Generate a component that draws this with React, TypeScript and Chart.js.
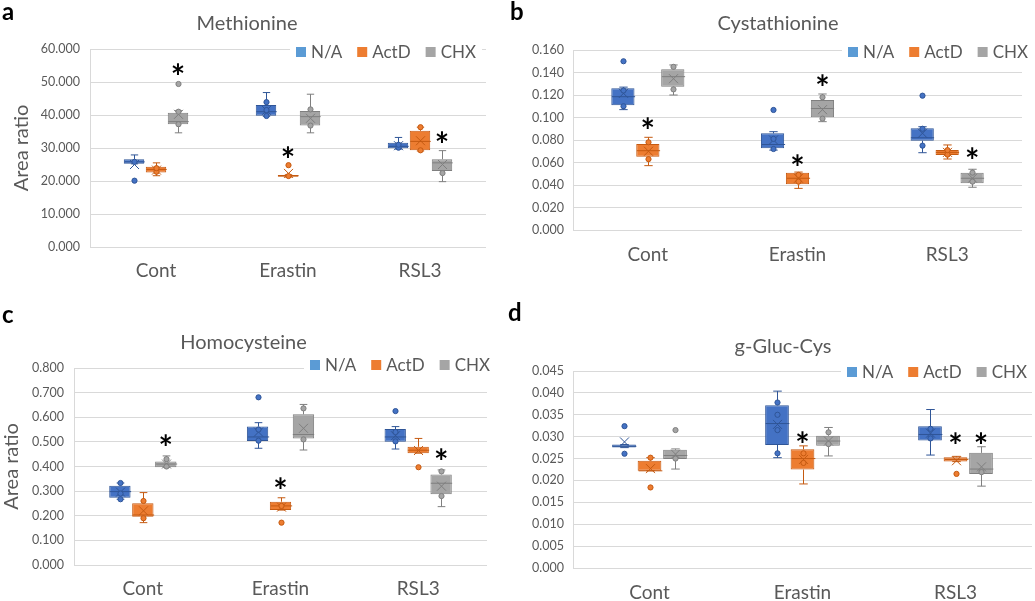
import React, { useEffect, useRef } from "react";
import { Chart, registerables } from "chart.js";
Chart.register(...registerables);

Chart.defaults.font.family = "Lato, 'Open Sans', sans-serif";
Chart.defaults.color = "#595959";

const categories = ["Cont", "Erastin", "RSL3"];
const seriesNames = ["N/A", "ActD", "CHX"];
const fills = ["#4472C4", "#ED7D31", "#A5A5A5"];
const borders = ["#2F5597", "#C55A11", "#7F7F7F"];
const swatches = ["#5B9BD5", "#ED7D31", "#A5A5A5"];

// each row: [whiskerLow, Q1, median, Q3, whiskerHigh, mean] for Cont, Erastin, RSL3
const metNA = [[25.2, 25.2, 25.8, 26.6, 27.9, 25.0], [39.6, 39.8, 41.0, 43.0, 46.8, 41.4], [29.7, 29.9, 30.5, 31.6, 33.2, 30.7]];
const metActD = [[21.6, 22.6, 23.5, 24.3, 25.5, 23.3], [21.2, 21.3, 21.6, 21.8, 21.9, 22.3], [29.1, 29.3, 32.0, 35.2, 36.3, 32.2]];
const metCHX = [[34.6, 37.2, 38.0, 40.7, 41.3, 40.2], [34.6, 36.8, 39.5, 41.2, 46.3, 39.0], [19.8, 23.0, 25.5, 26.6, 29.2, 25.0]];
const metNAPts = [[20.1, 25.8], [39.7, 43.9, 41.5], [30.1, 31.0]];
const metActDPts = [[22.8, 23.9], [24.8, 21.5], [36.3, 29.3]];
const metCHXPts = [[49.4, 37.2, 41.0], [41.7, 36.8], [22.4]];
// [series, category, value]
const metStars = [[2, 0, 53.9], [1, 1, 28.9], [2, 2, 33.4]];

const cysNA = [[0.107, 0.111, 0.1185, 0.126, 0.127, 0.1215], [0.071, 0.0726, 0.076, 0.0859, 0.0874, 0.080], [0.0687, 0.0794, 0.082, 0.0904, 0.0918, 0.086]];
const cysActD = [[0.0572, 0.0652, 0.0705, 0.0764, 0.0824, 0.070], [0.037, 0.0406, 0.046, 0.0509, 0.0515, 0.046], [0.0631, 0.0667, 0.069, 0.0711, 0.0756, 0.069]];
const cysCHX = [[0.120, 0.1274, 0.1363, 0.1428, 0.1467, 0.1345], [0.0963, 0.1002, 0.108, 0.1156, 0.1209, 0.107], [0.038, 0.0415, 0.046, 0.0509, 0.054, 0.046]];
const cysNAPts = [[0.150, 0.110, 0.124], [0.1067, 0.072, 0.081], [0.1194, 0.075, 0.090]];
const cysActDPts = [[0.063, 0.078], [0.043, 0.049], [0.067, 0.071]];
const cysCHXPts = [[0.125, 0.145], [0.099, 0.118], [0.043, 0.051]];
const cysStars = [[1, 0, 0.0954], [1, 1, 0.0622], [2, 1, 0.1333], [2, 2, 0.0682]];

const hcyNA = [[0.267, 0.273, 0.298, 0.322, 0.333, 0.296], [0.474, 0.504, 0.52, 0.562, 0.578, 0.54], [0.471, 0.501, 0.52, 0.552, 0.562, 0.525]];
const hcyActD = [[0.172, 0.196, 0.203, 0.2505, 0.294, 0.22], [0.223, 0.223, 0.24, 0.257, 0.273, 0.235], [0.454, 0.454, 0.466, 0.48, 0.514, 0.465]];
const hcyCHX = [[0.397, 0.397, 0.41, 0.42, 0.443, 0.41], [0.467, 0.514, 0.53, 0.612, 0.652, 0.555], [0.237, 0.287, 0.332, 0.368, 0.386, 0.32]];
const hcyNAPts = [[0.333, 0.267, 0.29], [0.681, 0.505, 0.55], [0.625, 0.502, 0.54]];
const hcyActDPts = [[0.26, 0.19], [0.172, 0.24], [0.397]];
const hcyCHXPts = [[0.43, 0.40], [0.636, 0.51], [0.28, 0.38]];
const hcyStars = [[2, 0, 0.508], [1, 1, 0.332], [2, 2, 0.45]];

const ggcNA = [[0.0275, 0.0275, 0.0278, 0.0282, 0.0282, 0.0288], [0.0252, 0.0281, 0.0330, 0.0372, 0.0404, 0.0328], [0.0258, 0.0291, 0.0305, 0.0324, 0.0362, 0.0308]];
const ggcActD = [[0.0222, 0.0222, 0.0222, 0.0245, 0.0252, 0.0227], [0.0192, 0.0225, 0.0250, 0.0271, 0.0279, 0.0248], [0.0243, 0.0243, 0.0248, 0.0253, 0.0255, 0.0245]];
const ggcCHX = [[0.0226, 0.0249, 0.0257, 0.0270, 0.0272, 0.0260], [0.0256, 0.0279, 0.029, 0.0302, 0.0321, 0.029], [0.0187, 0.0215, 0.0226, 0.0263, 0.0277, 0.0231]];
const ggcNAPts = [[0.0324, 0.0261], [0.0378, 0.0350, 0.0315, 0.0262], [0.0318, 0.0296]];
const ggcActDPts = [[0.0252, 0.0184], [0.0240, 0.0262], [0.0215]];
const ggcCHXPts = [[0.0315, 0.0250], [0.0310, 0.0283], [0.0219]];
const ggcStars = [[1, 1, 0.0300], [1, 2, 0.0296], [2, 2, 0.0296]];

type Panel = {
  title: string; letter: string;
  left: number; top: number; width: number; height: number;
  yMax: number; yStep: number; yTitle: boolean;
  stats: number[][][]; pts: number[][][]; stars: number[][];
  padL: number; padR: number; titleTop: number; titleBottom: number;
  yWidth: number; yTickPad: number; yTitlePad: number; xHeight: number; xTickPad: number;
  spacerR: number;
  legendRight: number; legendY: number; letterX: number; letterY: number;
};

const panels: Panel[] = [
  {
    title: "Methionine", letter: "a", left: 0, top: 0, width: 505, height: 290,
    yMax: 60, yStep: 10, yTitle: true,
    stats: [metNA, metActD, metCHX], pts: [metNAPts, metActDPts, metCHXPts], stars: metStars,
    padL: 8, padR: 19, titleTop: 12, titleBottom: 13,
    yWidth: 82, yTickPad: 10, yTitlePad: 2, xHeight: 43, xTickPad: 4, spacerR: 0,
    legendRight: 476, legendY: 52, letterX: 2, letterY: 20,
  },
  {
    title: "Cystathionine", letter: "b", left: 505, top: 0, width: 546, height: 290,
    yMax: 0.16, yStep: 0.02, yTitle: false,
    stats: [cysNA, cysActD, cysCHX], pts: [cysNAPts, cysActDPts, cysCHXPts], stars: cysStars,
    padL: 0, padR: 0, titleTop: 12, titleBottom: 14,
    yWidth: 68, yTickPad: 9, yTitlePad: 0, xHeight: 60, xTickPad: 5, spacerR: 29,
    legendRight: 523, legendY: 52, letterX: 5, letterY: 20,
  },
  {
    title: "Homocysteine", letter: "c", left: 0, top: 290, width: 505, height: 311,
    yMax: 0.8, yStep: 0.1, yTitle: true,
    stats: [hcyNA, hcyActD, hcyCHX], pts: [hcyNAPts, hcyActDPts, hcyCHXPts], stars: hcyStars,
    padL: 0, padR: 18, titleTop: 41, titleBottom: 13,
    yWidth: 74, yTickPad: 10, yTitlePad: 0, xHeight: 36, xTickPad: 4, spacerR: 0,
    legendRight: 490, legendY: 75, letterX: 2, letterY: 33,
  },
  {
    title: "g-Gluc-Cys", letter: "d", left: 505, top: 290, width: 556, height: 311,
    yMax: 0.045, yStep: 0.005, yTitle: false,
    stats: [ggcNA, ggcActD, ggcCHX], pts: [ggcNAPts, ggcActDPts, ggcCHXPts], stars: ggcStars,
    padL: 0, padR: 0, titleTop: 45, titleBottom: 12,
    yWidth: 68, yTickPad: 9, yTitlePad: 0, xHeight: 33, xTickPad: 5, spacerR: 29,
    legendRight: 522, legendY: 82, letterX: 3, letterY: 31,
  },
];

const FONT = "Lato, 'Open Sans', sans-serif";
const TEXT = "#595959";

function makePlugin(p: Panel) {
  return {
    id: "boxExtras",
    afterDatasetsDraw(chart: any) {
      const ctx: CanvasRenderingContext2D = chart.ctx;
      const ys = chart.scales.y;
      const py = (v: number) => ys.getPixelForValue(v);
      p.stats.forEach((series, i) => {
        const meta = chart.getDatasetMeta(i);
        series.forEach((s, j) => {
          const el: any = meta.data[j];
          const x = Math.round(el.x) + 0.5;
          const w = el.width;
          const [lo, q1, med, q3, hi, mean] = s;
          const cap = Math.max(3, w * 0.18);
          ctx.save();
          ctx.strokeStyle = borders[i];
          ctx.lineWidth = 1;
          ctx.beginPath();
          ctx.moveTo(x, py(hi)); ctx.lineTo(x, py(q3));
          ctx.moveTo(x, py(q1)); ctx.lineTo(x, py(lo));
          ctx.moveTo(x - cap, py(hi)); ctx.lineTo(x + cap, py(hi));
          ctx.moveTo(x - cap, py(lo)); ctx.lineTo(x + cap, py(lo));
          ctx.moveTo(x - w / 2, py(med)); ctx.lineTo(x + w / 2, py(med));
          const my = py(mean); const d = 4.5;
          ctx.moveTo(x - d, my - d); ctx.lineTo(x + d, my + d);
          ctx.moveTo(x + d, my - d); ctx.lineTo(x - d, my + d);
          ctx.stroke();
          p.pts[i][j].forEach((v) => {
            ctx.beginPath();
            ctx.arc(x, py(v), 2.6, 0, Math.PI * 2);
            ctx.fillStyle = fills[i];
            ctx.fill();
            ctx.stroke();
          });
          ctx.restore();
        });
      });
      // significance stars
      ctx.save();
      ctx.fillStyle = "#000";
      ctx.font = `bold 34px ${FONT}`;
      ctx.textAlign = "center";
      ctx.textBaseline = "alphabetic";
      const m = ctx.measureText("*");
      const asc = m.actualBoundingBoxAscent, desc = m.actualBoundingBoxDescent;
      p.stars.forEach(([si, ci, v]) => {
        const el: any = chart.getDatasetMeta(si).data[ci];
        ctx.fillText("*", el.x, py(v) + (asc - desc) / 2);
      });
      ctx.restore();
    },
    afterDraw(chart: any) {
      const ctx: CanvasRenderingContext2D = chart.ctx;
      ctx.save();
      // legend
      ctx.font = `17px ${FONT}`;
      const sq = 10, gapT = 5, gapI = 15;
      const widths = seriesNames.map((n) => ctx.measureText(n).width);
      let total = 0;
      widths.forEach((w, i) => { total += sq + gapT + w + (i < widths.length - 1 ? gapI : 0); });
      let x = p.legendRight - total;
      ctx.fillStyle = "#fff";
      ctx.fillRect(x - 6, p.legendY - 10, total + 12, 20);
      ctx.textBaseline = "middle";
      ctx.textAlign = "left";
      seriesNames.forEach((n, i) => {
        ctx.fillStyle = swatches[i];
        ctx.fillRect(x, p.legendY - sq / 2, sq, sq);
        x += sq + gapT;
        ctx.fillStyle = TEXT;
        ctx.fillText(n, x, p.legendY + 1);
        x += widths[i] + gapI;
      });
      // panel letter
      ctx.fillStyle = "#000";
      ctx.font = `bold 24px ${FONT}`;
      ctx.textBaseline = "alphabetic";
      ctx.fillText(p.letter, p.letterX, p.letterY);
      ctx.restore();
    },
  };
}

function BoxPanel({ p }: { p: Panel }) {
  const ref = useRef<HTMLCanvasElement>(null);
  useEffect(() => {
    if (!ref.current) return;
    const scales: any = {
      x: {
        grid: { display: false },
        border: { display: false },
        ticks: { color: TEXT, font: { size: 19, family: FONT }, padding: p.xTickPad },
        afterFit: (s: any) => { s.height = p.xHeight; },
      },
      y: {
        min: 0,
        max: p.yMax,
        grid: { color: "#D9D9D9", drawTicks: false },
        border: { display: true, color: "#D9D9D9" },
        ticks: {
          stepSize: p.yStep,
          color: TEXT,
          font: { size: 12.5, family: FONT },
          padding: p.yTickPad,
          callback: (v: any) => Number(v).toFixed(3),
        },
        title: {
          display: p.yTitle,
          text: "Area ratio",
          color: TEXT,
          font: { size: 20, family: FONT },
          padding: { top: p.yTitlePad, bottom: 0 },
        },
        afterFit: (s: any) => { s.width = p.yWidth; },
      },
    };
    if (p.spacerR > 0) {
      scales.spacer = {
        type: "linear",
        position: "right",
        display: true,
        grid: { display: false },
        border: { display: false },
        ticks: { display: false },
        afterFit: (s: any) => { s.width = p.spacerR; },
      };
    }
    const chart = new Chart(ref.current, {
      type: "bar",
      data: {
        labels: categories,
        datasets: seriesNames.map((name, i) => ({
          label: name,
          data: p.stats[i].map((s) => [s[1], s[3]]),
          backgroundColor: fills[i],
          borderColor: borders[i],
          borderWidth: 1,
          borderSkipped: false,
          categoryPercentage: 0.5,
          barPercentage: 0.93,
        })),
      } as any,
      plugins: [makePlugin(p)],
      options: {
        animation: false,
        responsive: false,
        maintainAspectRatio: false,
        devicePixelRatio: 1,
        events: [],
        layout: { padding: { left: p.padL, right: p.padR, bottom: 0, top: 0 } },
        plugins: {
          legend: { display: false },
          tooltip: { enabled: false },
          title: {
            display: true,
            text: p.title,
            color: TEXT,
            font: { size: 20, weight: "normal", family: FONT },
            padding: { top: p.titleTop, bottom: p.titleBottom },
          },
        },
        scales,
      } as any,
    });
    return () => chart.destroy();
  }, [p]);
  return (
    <canvas
      ref={ref}
      width={p.width}
      height={p.height}
      style={{ position: "absolute", left: p.left, top: p.top, width: p.width, height: p.height }}
    />
  );
}

export default function App() {
  return (
    <div style={{ position: "fixed", left: 0, top: 0, width: 1035, height: 601, background: "#fff", overflow: "hidden" }}>
      {panels.map((p) => (
        <BoxPanel key={p.letter} p={p} />
      ))}
    </div>
  );
}
